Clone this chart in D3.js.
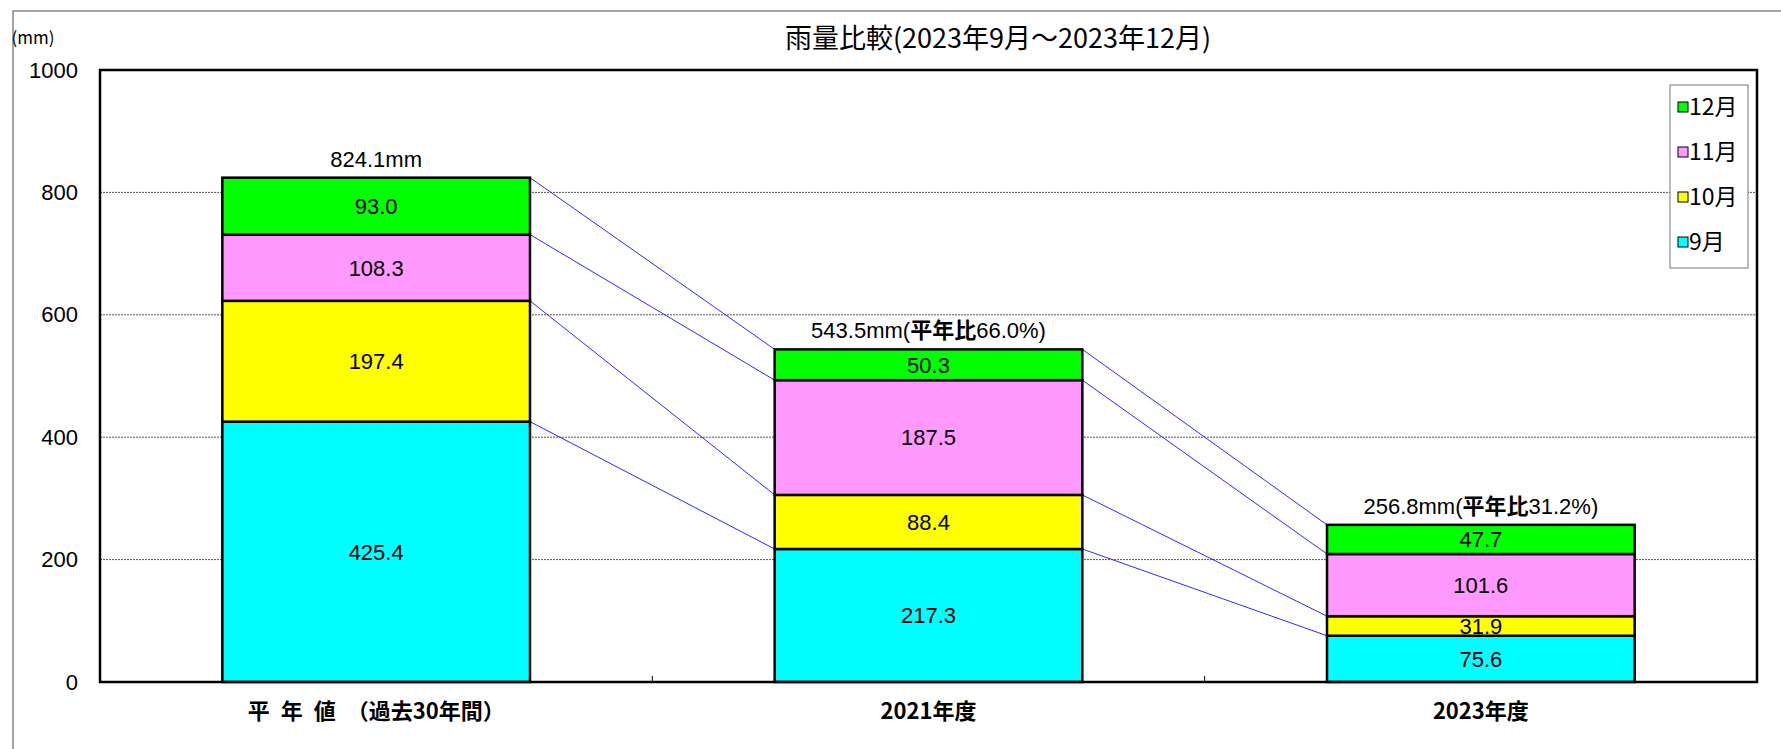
<!DOCTYPE html>
<html>
<head>
<meta charset="utf-8">
<script src="https://cdn.jsdelivr.net/npm/d3@7"></script>
<style>
  body { margin: 0; background: #fff; }
  text { font-family: "Liberation Sans", "Noto Sans CJK JP", sans-serif; }
</style>
</head>
<body>
<div id="container"></div>
<script>
// data
const categories = ["平\u2002年\u2002値　（過去30年間）", "2021年度", "2023年度"];
const months = ["9月", "10月", "11月", "12月"];
const sep = [425.4, 217.3, 75.6];
const oct = [197.4, 88.4, 31.9];
const nov = [108.3, 187.5, 101.6];
const dec = [93.0, 50.3, 47.7];
const totalLabels = ["824.1mm", "543.5mm", "256.8mm"];
const ratioLabels = ["", "66.0%", "31.2%"];
const yTicks = [0, 200, 400, 600, 800, 1000];
const colors = ["#00ffff", "#ffff00", "#ff99ff", "#00ff00"];

const w = 1781, h = 749;
const plotL = 100, plotR = 1757, plotT = 70, plotB = 682;

const rows = categories.map((c, i) => ({cat: c, "9月": sep[i], "10月": oct[i], "11月": nov[i], "12月": dec[i]}));
const stacked = d3.stack().keys(months)(rows);

const xScale = d3.scaleBand().domain(categories).range([plotL, plotR]).padding(0);
const yScale = d3.scaleLinear().domain([0, 1000]).range([plotB, plotT]);
const barW = xScale.bandwidth() * 0.557;
const barX = (c) => xScale(c) + (xScale.bandwidth() - barW) / 2;

const svg = d3.select("#container").append("svg")
    .attr("width", w).attr("height", h);

// outer chart frame (only top and left visible)
svg.append("path")
    .attr("d", "M13," + h + "V11H" + w)
    .attr("fill", "none").attr("stroke", "#888").attr("stroke-width", 1.5);

// grid
svg.append("g").selectAll("line")
    .data(yTicks.filter(t => t > 0 && t < 1000))
    .enter().append("line")
    .attr("x1", plotL).attr("x2", plotR)
    .attr("y1", d => yScale(d)).attr("y2", d => yScale(d))
    .attr("stroke", "#555").attr("stroke-width", 1).attr("stroke-dasharray", "2,1");

// connector lines between bars
const connectors = [];
stacked.forEach(s => {
    for (let i = 0; i < categories.length - 1; i++) {
        connectors.push({
            x1: barX(categories[i]) + barW, y1: yScale(s[i][1]),
            x2: barX(categories[i + 1]), y2: yScale(s[i + 1][1])
        });
    }
});
svg.append("g").selectAll("line")
    .data(connectors).enter().append("line")
    .attr("x1", d => d.x1).attr("y1", d => d.y1)
    .attr("x2", d => d.x2).attr("y2", d => d.y2)
    .attr("stroke", "#2b2bff").attr("stroke-width", 1);

// bars
const layers = svg.append("g").selectAll("g")
    .data(stacked).enter().append("g")
    .attr("fill", (d, i) => colors[i]);

layers.selectAll("rect")
    .data(d => d).enter().append("rect")
    .attr("x", d => barX(d.data.cat))
    .attr("y", d => yScale(d[1]))
    .attr("width", barW)
    .attr("height", d => yScale(d[0]) - yScale(d[1]))
    .attr("stroke", "#000").attr("stroke-width", 2.5);

layers.selectAll("text")
    .data(d => d.map(p => Object.assign({}, p, {key: d.key}))).enter().append("text")
    .attr("x", d => barX(d.data.cat) + barW / 2)
    .attr("y", d => (yScale(d[0]) + yScale(d[1])) / 2)
    .attr("dy", "0.36em")
    .attr("text-anchor", "middle")
    .attr("font-size", "22px")
    .attr("fill", "#000")
    .text(d => d3.format(".1f")(d.data[d.key]));

// totals above bars
const totals = svg.append("g").selectAll("text")
    .data(categories).enter().append("text")
    .attr("x", c => barX(c) + barW / 2)
    .attr("y", (c, i) => yScale(sep[i] + oct[i] + nov[i] + dec[i]) - 19)
    .attr("dy", "0.36em")
    .attr("text-anchor", "middle")
    .attr("font-size", "22px");
totals.append("tspan").text((c, i) => totalLabels[i]);
totals.each(function(c) {
    const idx = categories.indexOf(c);
    if (ratioLabels[idx] === "") return;
    const t = d3.select(this);
    t.append("tspan").text("(");
    t.append("tspan").attr("font-weight", "bold").style("font-family", "'Noto Sans CJK JP', sans-serif").text("平年比");
    t.append("tspan").text(ratioLabels[idx] + ")");
});

// plot frame
svg.append("rect")
    .attr("x", plotL).attr("y", plotT)
    .attr("width", plotR - plotL).attr("height", plotB - plotT)
    .attr("fill", "none").attr("stroke", "#000").attr("stroke-width", 2.5);

// category boundary ticks
svg.append("g").selectAll("line")
    .data(categories.slice(0, -1)).enter().append("line")
    .attr("x1", c => xScale(c) + xScale.step()).attr("x2", c => xScale(c) + xScale.step())
    .attr("y1", plotB).attr("y2", plotB - 6)
    .attr("stroke", "#000").attr("stroke-width", 1);

// y axis
const yAxis = d3.axisLeft(yScale).tickValues(yTicks).tickFormat(d3.format("d")).tickSize(0).tickPadding(22);
const gy = svg.append("g").attr("transform", "translate(" + plotL + ",0)").call(yAxis);
gy.select(".domain").remove();
gy.selectAll("text").attr("font-size", "22px").attr("fill", "#000")
    .style("font-family", "'Liberation Sans', sans-serif");

// x axis
const xAxis = d3.axisBottom(xScale).tickSize(0).tickPadding(21);
const gx = svg.append("g").attr("transform", "translate(0," + plotB + ")").call(xAxis);
gx.select(".domain").remove();
gx.selectAll("text").attr("font-size", "22px").attr("font-weight", "bold").attr("fill", "#000")
    .style("font-family", "'Noto Sans CJK JP', sans-serif");

// title and unit
svg.append("text")
    .attr("x", 998).attr("y", 38).attr("dy", "0.36em")
    .attr("text-anchor", "middle").attr("font-size", "27px")
    .style("font-family", "'Noto Sans CJK JP', sans-serif")
    .text("雨量比較(2023年9月～2023年12月)");

svg.append("text")
    .attr("x", 33).attr("y", 38).attr("dy", "0.36em")
    .attr("text-anchor", "middle").attr("font-size", "17px")
    .style("font-family", "'Noto Sans CJK JP', sans-serif")
    .text("(mm)");

// legend
const legend = svg.append("g").attr("transform", "translate(1670,85)");
legend.append("rect")
    .attr("width", 78).attr("height", 183)
    .attr("fill", "#fff").attr("stroke", "#777").attr("stroke-width", 1);
const items = legend.selectAll("g.item")
    .data(months.slice().reverse()).enter().append("g")
    .attr("class", "item")
    .attr("transform", (d, i) => "translate(8," + (22 + i * 45) + ")");
items.append("rect")
    .attr("x", 0).attr("y", -5).attr("width", 10).attr("height", 10)
    .attr("fill", d => colors[months.indexOf(d)])
    .attr("stroke", "#000").attr("stroke-width", 1);
items.append("text")
    .attr("x", 11).attr("y", 0).attr("dy", "0.36em")
    .attr("font-size", "23px")
    .style("font-family", "'Noto Sans CJK JP', sans-serif")
    .text(d => d);
</script>
</body>
</html>
